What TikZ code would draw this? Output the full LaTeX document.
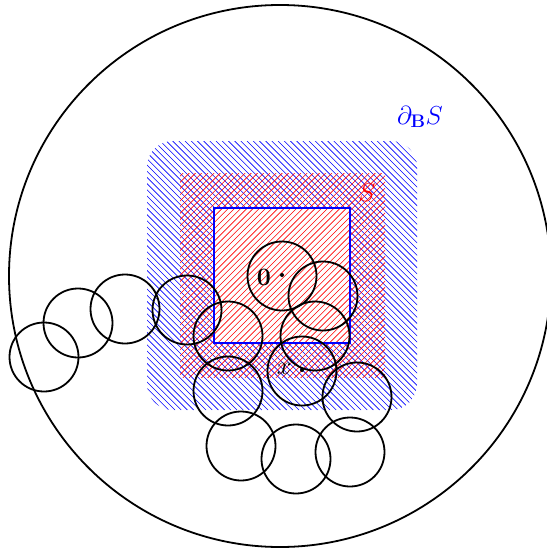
\documentclass[tikz,border=0pt]{standalone}
\usepackage{fix-cm}
\begin{document}
\begin{tikzpicture}[x=1pt,y=-1pt,
  disk/.style={draw=black,line width=1.8pt},
  lbl/.style={font=\fontsize{26}{30}\selectfont, inner sep=0pt},
  olblstyle/.style={font=\fontsize{25}{30}\selectfont\bfseries, inner sep=0pt},
  bhatch/.style={draw=blue,line width=0.6pt},
  rhatch/.style={draw=red,line width=0.6pt}]
\useasboundingbox (0,0) rectangle (546,551);
% boundary region (blue hatching)
\begin{scope}[even odd rule, rounded corners=26pt]
  \clip (147,141) rectangle (417,410) [sharp corners] (214,208) rectangle (350,343);
  \foreach \c in {-266,-259.8,...,280}
    \draw[bhatch, sharp corners] (\c+141,141) -- (\c+410,410);
\end{scope}
% S (red hatching)
\begin{scope}
  \clip (180,173) rectangle (385,378);
  \foreach \c in {350,356.2,...,770}
    \draw[rhatch] (\c-173,173) -- (\c-378,378);
\end{scope}
\draw[blue, line width=1.4pt] (214,208) rectangle (350,343);
% labels
\node[lbl, text=red] (Slbl) at (367,193) {$S$};
\node[lbl, text=blue] (dSlbl) at (420,117) {$\partial_{\mathbf{B}}S$};
\coordinate (O) at (282,275);
\fill (O) circle (2pt);
\node[olblstyle] (olbl) at (264,277) {0};
\coordinate (X) at (302,370);
\fill (X) circle (2pt);
\node[lbl] (xlbl) at (284,369) {$x$};
% big ball
\draw[disk] (280,276) circle (271);
% chain of balls
\foreach \cx/\cy in {282/276,323/296,315/336,302/371,228/336,187/310,228/391,357/397,241/446,296/459,350/452,125/309,78/323,44/357}
  \draw[disk] (\cx,\cy) circle (34.5);
\end{tikzpicture}
\end{document}
